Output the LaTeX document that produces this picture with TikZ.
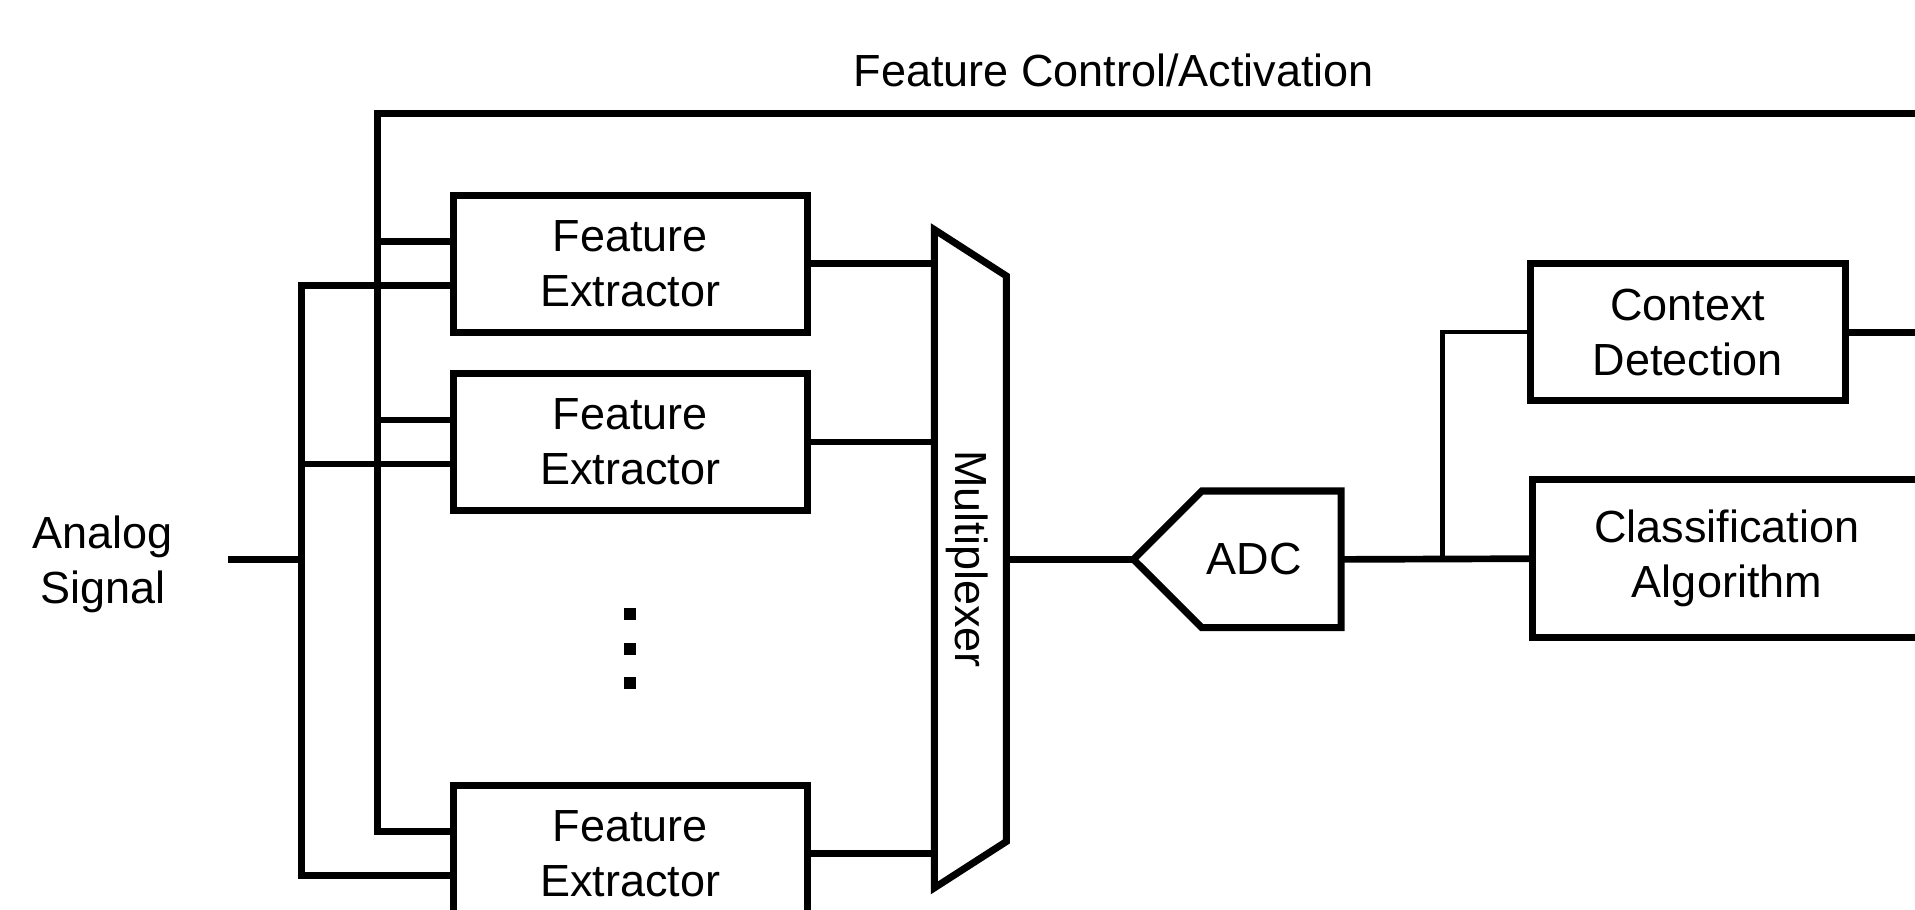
\documentclass[tikz,border=0pt]{standalone}
\usepackage{fontspec}
\setmainfont{Liberation Sans}

\begin{document}
\begin{tikzpicture}[x=0.01cm, y=-0.01cm,
    font=\fontsize{12.8}{15.6}\selectfont,
    wire/.style={line width=1.9pt},
    thinwire/.style={line width=1.2pt},
    blockbox/.style={draw, line width=2pt, inner sep=0pt, align=center, minimum height=1.37cm},
    extractor/.style={blockbox, minimum width=3.54cm}]
    \clip (0,0) rectangle (1915,910);

    \node (ctltitle) at (1113.8,70.8) {Feature Control/Activation};
    \node [align=center] (ain) at (102.6,564.5) {Analog\\Signal};

    \node [extractor] (fe1) at (630.2,263.8) {Feature\\Extractor};
    \node [extractor] (fe2) at (630.2,442.1) {Feature\\Extractor};
    \node [extractor] (fe3) at (630.2,853.7) {Feature\\Extractor};
    \foreach \yy in {614.3,649,683.3}
        \fill (624.2,\yy-6) rectangle ++(12,12);

    \coordinate (ctltop) at (377.4,113.6);
    \coordinate (ctlend) at (1915,113.6);
    \coordinate (ctlbot) at (377.4,831.7);
    \coordinate (sigtop) at (301.7,285.8);
    \coordinate (sigbot) at (301.7,876.9);
    \coordinate (ainend) at (228.4,559.4);
    \coordinate (sigmid) at (301.7,559.4);

    \draw [wire] (ctlbot) -- (ctltop) -- (ctlend);
    \draw [wire] (sigtop) -- (sigbot);
    \draw [wire] (ainend) -- (sigmid);
    \foreach \n in {fe1,fe2,fe3} {
        \draw [wire] ([yshift=0.22cm]\n.west) -- ++(-75.7,0);
        \draw [wire] ([yshift=-0.22cm]\n.west) -- ++(-151.4,0);
    }

    \draw [line width=2pt] (934.3,229.6) -- (1006.4,276) -- (1006.4,841.5) -- (934.3,887.9) -- cycle;
    \node [rotate=-90] (mux) at (967,559) {Multiplexer};
    \coordinate (muxl) at (934.3,558.7);
    \coordinate (muxr) at (1006.4,559.4);
    \foreach \n in {fe1,fe2,fe3}
        \draw [wire] (\n.east) -- (\n.east -| muxl);

    \draw [line width=2pt] (1133.4,559.4) -- (1201.8,491) -- (1341,491) -- (1341,627.7) -- (1201.8,627.7) -- cycle;
    \node (adc) at (1254,559.4) {ADC};
    \coordinate (adcin) at (1133.4,559.4);
    \coordinate (adcout) at (1341,559.4);
    \draw [wire] (muxr) -- (adcin);

    \node [blockbox, minimum width=3.15cm] (ctx) at (1687.9,332.2) {Context\\Detection};
    \node [blockbox, minimum width=3.886cm, minimum height=1.575cm] (cls) at (1727,558.7) {Classification\\Algorithm};
    \coordinate (split) at (1442.4,559.4);
    \coordinate (ctxend) at (1915,332.2);

    \draw [wire] (adcout) -- (cls.west);
    \draw [thinwire] (split) |- (ctx.west);
    \draw [wire] (ctx.east) -- (ctxend);
\end{tikzpicture}
\end{document}
